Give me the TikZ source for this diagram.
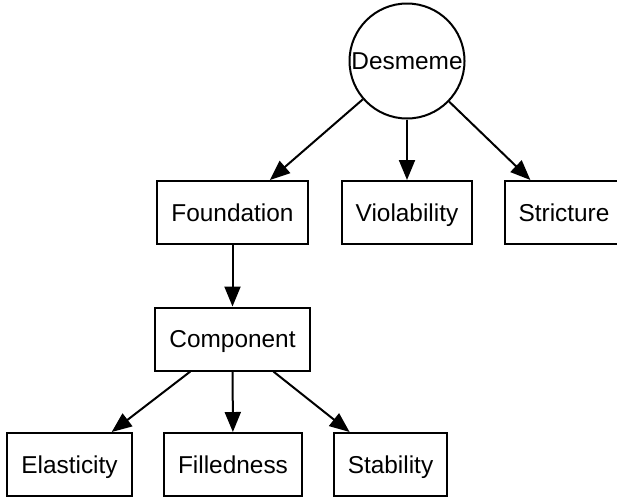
\documentclass[tikz,border=0pt]{standalone}
\usepackage{fontspec}
\setmainfont{Liberation Sans}
\usetikzlibrary{arrows.meta}

\begin{document}
\begin{tikzpicture}[x=1pt,y=-1pt,
    every node/.append style={font=\fontsize{24.4}{29}\selectfont},
    box/.style={draw,line width=2pt,inner xsep=14pt,text height=21pt,text depth=4pt,minimum height=63pt},
    root/.style={draw,circle,line width=2pt,inner sep=0pt,minimum size=115pt},
    link/.style={line width=2pt,-{Triangle[length=20pt,width=16pt]}}]
    \useasboundingbox (0,0) rectangle (617,496);
    \node [root] (De) at (407,61) {Desmeme};
    \node [box] (Fo) at (232.5,212.5) {Foundation};
    \node [box] (Vi) at (407,212.5) {Violability};
    \node [box] (St) at (564,212.5) {Stricture};
    \node [box] (Co) at (232.5,339) {Component};
    \node [box] (El) at (69.5,464.5) {Elasticity};
    \node [box] (Fi) at (233,464.5) {Filledness};
    \node [box] (Sa) at (390.5,464.5) {Stability};
    \draw [link] (De) to (Fo);
    \draw [link] (De) to (Vi);
    \draw [link] (De) to (St);
    \draw [link] (Fo) to (Co);
    \draw [link] (Co) to (El);
    \draw [link] (Co) to (Fi);
    \draw [link] (Co) to (Sa);
  \end{tikzpicture}
\end{document}
